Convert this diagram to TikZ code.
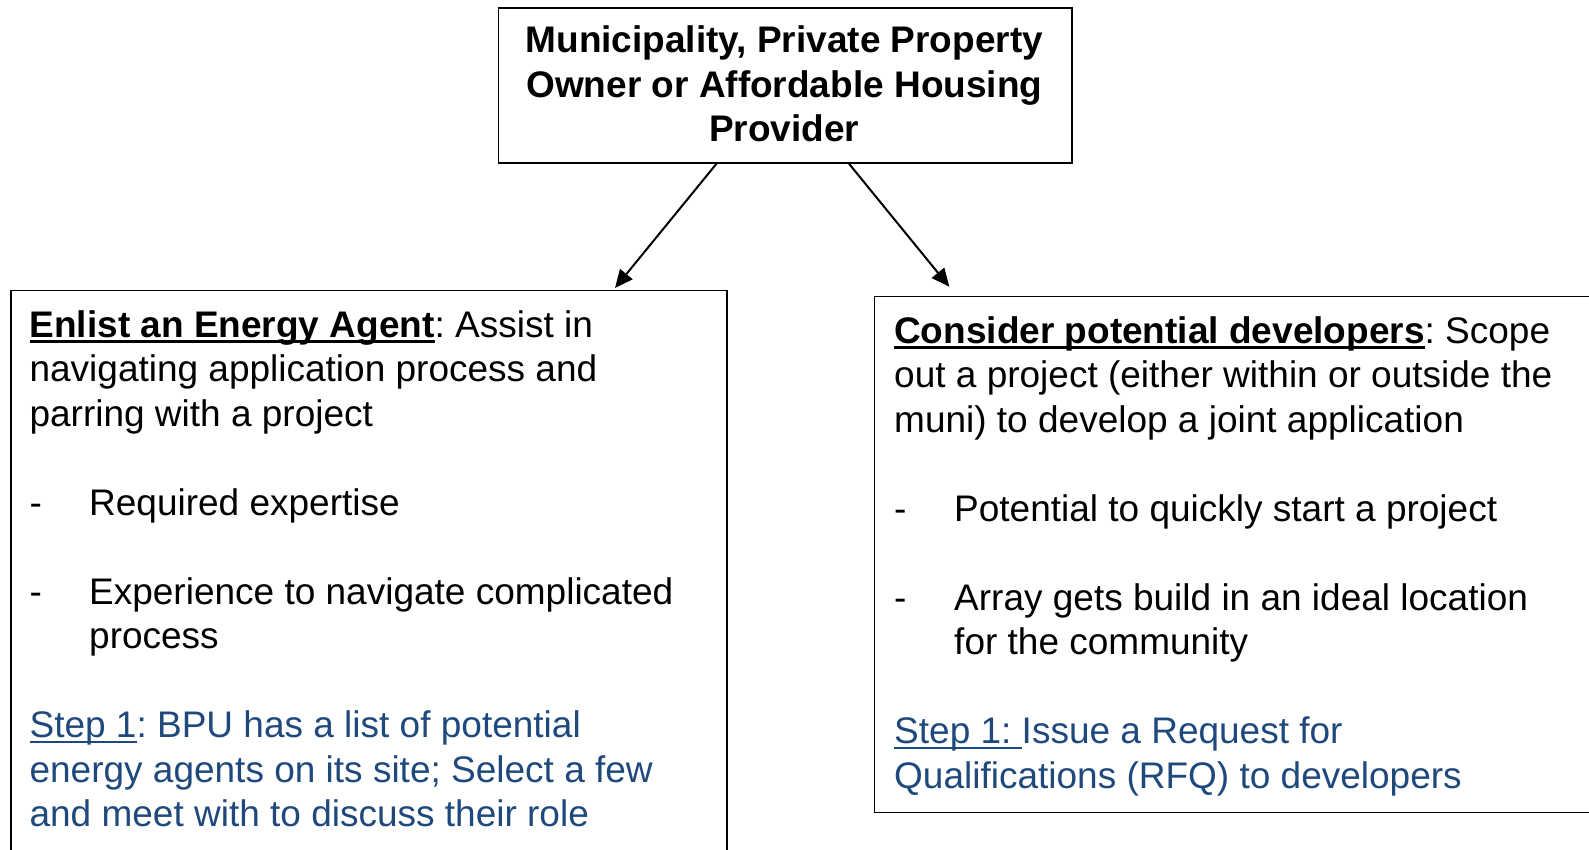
\documentclass[tikz,border=0pt]{standalone}
\usepackage{fontspec}
\setmainfont{Liberation Sans}
\usetikzlibrary{arrows.meta,calc}
\definecolor{stepblue}{HTML}{1F497D}
\newcommand\ulx[1]{\setbox0\hbox{#1}\rlap{\rule[-5.6pt]{\wd0}{2.8pt}}\box0}
\frenchspacing
\begin{document}
\begin{tikzpicture}[x=1pt,y=-1pt,
  box/.style={draw, line width=1.6pt, inner sep=0pt, anchor=north west},
  txt/.style={inner sep=0pt, anchor=north west, align=left, font=\fontsize{37}{44.5}\selectfont},
  arr/.style={line width=2pt, -{Triangle[length=18pt,width=16pt]}}]
\useasboundingbox (0,0) rectangle (1589,849);
\node[box, minimum width=573.4pt, minimum height=155pt] (top) at (497.6,7.1) {};
\node[box, minimum width=716pt, minimum height=600pt] (agent) at (10,289.5) {};
\node[box, minimum width=740pt, minimum height=516pt] (dev) at (873.5,295.5) {};
\node[txt, anchor=north, align=center, font=\fontsize{37}{44.5}\selectfont\bfseries] (toptext) at (784.3,21.55)
  {\strut Municipality, Private Property\\Owner or Affordable Housing\\Provider};
\node[txt] (agenttext) at (29.4,305.85) {\strut\textbf{\ulx{Enlist an Energy Agent}}: Assist in\\
navigating application process and\\
parring with a project\\[44.5pt]
\makebox[59.6pt][l]{-}Required expertise\\[44.5pt]
\makebox[59.6pt][l]{-}Experience to navigate complicated\\
\hspace*{59.6pt}process\\[44.5pt]
\textcolor{stepblue}{\ulx{Step 1}: BPU has a list of potential}\\
\textcolor{stepblue}{energy agents on its site; Select a few}\\
\textcolor{stepblue}{and meet with to discuss their role}};
\node[txt] (devtext) at (894,311.85) {\strut\textbf{\ulx{Consider potential developers}}: Scope\\
out a project (either within or outside the\\
muni) to develop a joint application\\[44.5pt]
\makebox[60pt][l]{-}Potential to quickly start a project\\[44.5pt]
\makebox[60pt][l]{-}Array gets build in an ideal location\\
\hspace*{60pt}for the community\\[44.5pt]
\textcolor{stepblue}{\ulx{Step 1: }Issue a Request for}\\
\textcolor{stepblue}{Qualifications (RFQ) to developers}};
\draw[arr] ($(top.south west)+(218.9,0)$) -- ($(agent.north west)+(605,-1.5)$);
\draw[arr] ($(top.south west)+(351.4,0)$) -- ($(dev.north west)+(75.8,-8.8)$);
\end{tikzpicture}
\end{document}
